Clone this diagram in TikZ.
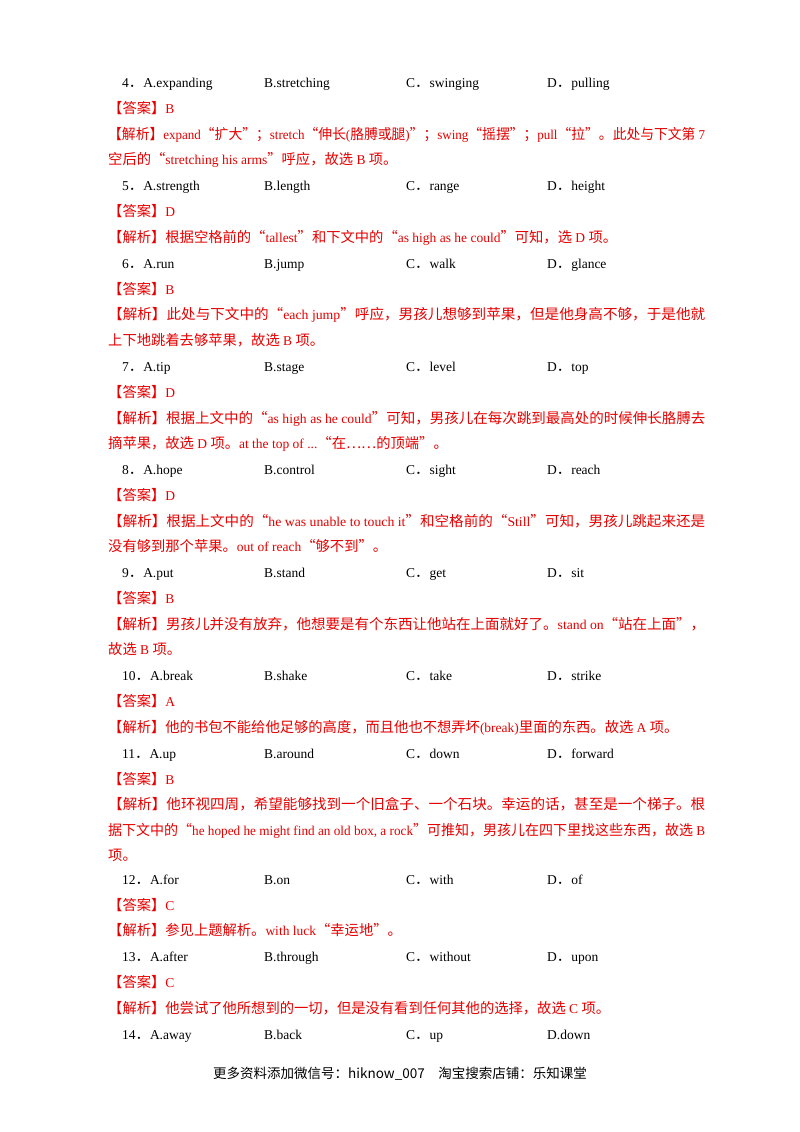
\documentclass[tikz,border=0pt]{standalone}
\usepackage{fontspec}
\usepackage{graphicx}
\setmainfont{Liberation Serif}
\newfontfamily\cjk{Noto Sans CJK SC}
\newcommand\C[1]{{\cjk\fontsize{14.3}{16}\selectfont #1}}
\newcommand\J[1]{\resizebox{597pt}{\height}{#1}}
\definecolor{ansred}{RGB}{230,0,0}
\tikzset{txt/.style={anchor=base west,inner sep=0pt,font=\fontsize{13.5}{16}\selectfont},
 red/.style={txt,text=ansred}}
\newcommand\Q[6]{%
 \node[txt] (q#1a) at (122,#2+5) {#3};
 \node[txt] (q#1b) at (264,#2+5) {#4};
 \node[txt] (q#1c) at (406,#2+5) {#5};
 \node[txt] (q#1d) at (547,#2+5) {#6};}
\newcommand\R[3]{\node[red] (#1) at (108,#2+5) {#3};}
\begin{document}
\begin{tikzpicture}[x=1pt,y=-1pt]
\useasboundingbox[fill=white] (0,0) rectangle (800,1132);
\Q{4}{82}{4\C{．}A.expanding}{B.stretching}{C\C{．}swinging}{D\C{．}pulling}
\R{a4}{108}{\C{【答案】}B}
\R{j4a}{134}{\J{\C{【解析】}expand\C{“扩大”；}stretch\C{“伸长}(\C{胳膊或腿})\C{”；}swing\C{“摇摆”；}pull\C{“拉”。此处与下文第} 7}}
\R{j4b}{159}{\C{空后的“}stretching his arms\C{”呼应，故选} B \C{项。}}
\Q{5}{185}{5\C{．}A.strength}{B.length}{C\C{．}range}{D\C{．}height}
\R{a5}{211}{\C{【答案】}D}
\R{j5a}{237}{\C{【解析】根据空格前的“}tallest\C{”和下文中的“}as high as he could\C{”可知，选} D \C{项。}}
\Q{6}{263}{6\C{．}A.run}{B.jump}{C\C{．}walk}{D\C{．}glance}
\R{a6}{289}{\C{【答案】}B}
\R{j6a}{314}{\J{\C{【解析】此处与下文中的“}each jump\C{”呼应，男孩儿想够到苹果，但是他身高不够，于是他就}}}
\R{j6b}{340}{\C{上下地跳着去够苹果，故选} B \C{项。}}
\Q{7}{366}{7\C{．}A.tip}{B.stage}{C\C{．}level}{D\C{．}top}
\R{a7}{392}{\C{【答案】}D}
\R{j7a}{418}{\J{\C{【解析】根据上文中的“}as high as he could\C{”可知，男孩儿在每次跳到最高处的时候伸长胳膊去}}}
\R{j7b}{443}{\C{摘苹果，故选} D \C{项。}at the top of ...\C{“在……的顶端”。}}
\Q{8}{469}{8\C{．}A.hope}{B.control}{C\C{．}sight}{D\C{．}reach}
\R{a8}{495}{\C{【答案】}D}
\R{j8a}{521}{\J{\C{【解析】根据上文中的“}he was unable to touch it\C{”和空格前的“}Still\C{”可知，男孩儿跳起来还是}}}
\R{j8b}{546}{\C{没有够到那个苹果。}out of reach\C{“够不到”。}}
\Q{9}{572}{9\C{．}A.put}{B.stand}{C\C{．}get}{D\C{．}sit}
\R{a9}{598}{\C{【答案】}B}
\R{j9a}{624}{\J{\C{【解析】男孩儿并没有放弃，他想要是有个东西让他站在上面就好了。}stand on\C{“站在上面”，}}}
\R{j9b}{649}{\C{故选} B \C{项。}}
\Q{10}{675}{10\C{．}A.break}{B.shake}{C\C{．}take}{D\C{．}strike}
\R{a10}{701}{\C{【答案】}A}
\R{j10a}{727}{\C{【解析】他的书包不能给他足够的高度，而且他也不想弄坏}(break)\C{里面的东西。故选} A \C{项。}}
\Q{11}{753}{11\C{．}A.up}{B.around}{C\C{．}down}{D\C{．}forward}
\R{a11}{779}{\C{【答案】}B}
\R{j11a}{804}{\J{\C{【解析】他环视四周，希望能够找到一个旧盒子、一个石块。幸运的话，甚至是一个梯子。根}}}
\R{j11b}{830}{\J{\C{据下文中的“}he hoped he might find an old box, a rock\C{”可推知，男孩儿在四下里找这些东西，故选} B}}
\R{j11c}{855}{\C{项。}}
\Q{12}{879}{12\C{．}A.for}{B.on}{C\C{．}with}{D\C{．}of}
\R{a12}{905}{\C{【答案】}C}
\R{j12a}{930}{\C{【解析】参见上题解析。}with luck\C{“幸运地”。}}
\Q{13}{956}{13\C{．}A.after}{B.through}{C\C{．}without}{D\C{．}upon}
\R{a13}{982}{\C{【答案】}C}
\R{j13a}{1008}{\C{【解析】他尝试了他所想到的一切，但是没有看到任何其他的选择，故选} C \C{项。}}
\Q{14}{1034}{14\C{．}A.away}{B.back}{C\C{．}up}{D.down}
\node[inner sep=0pt,font=\cjk\fontsize{13.5}{16}\selectfont] (foot) at (400,1074) {更多资料添加微信号：hiknow\_007\quad 淘宝搜索店铺：乐知课堂};
\end{tikzpicture}
\end{document}
